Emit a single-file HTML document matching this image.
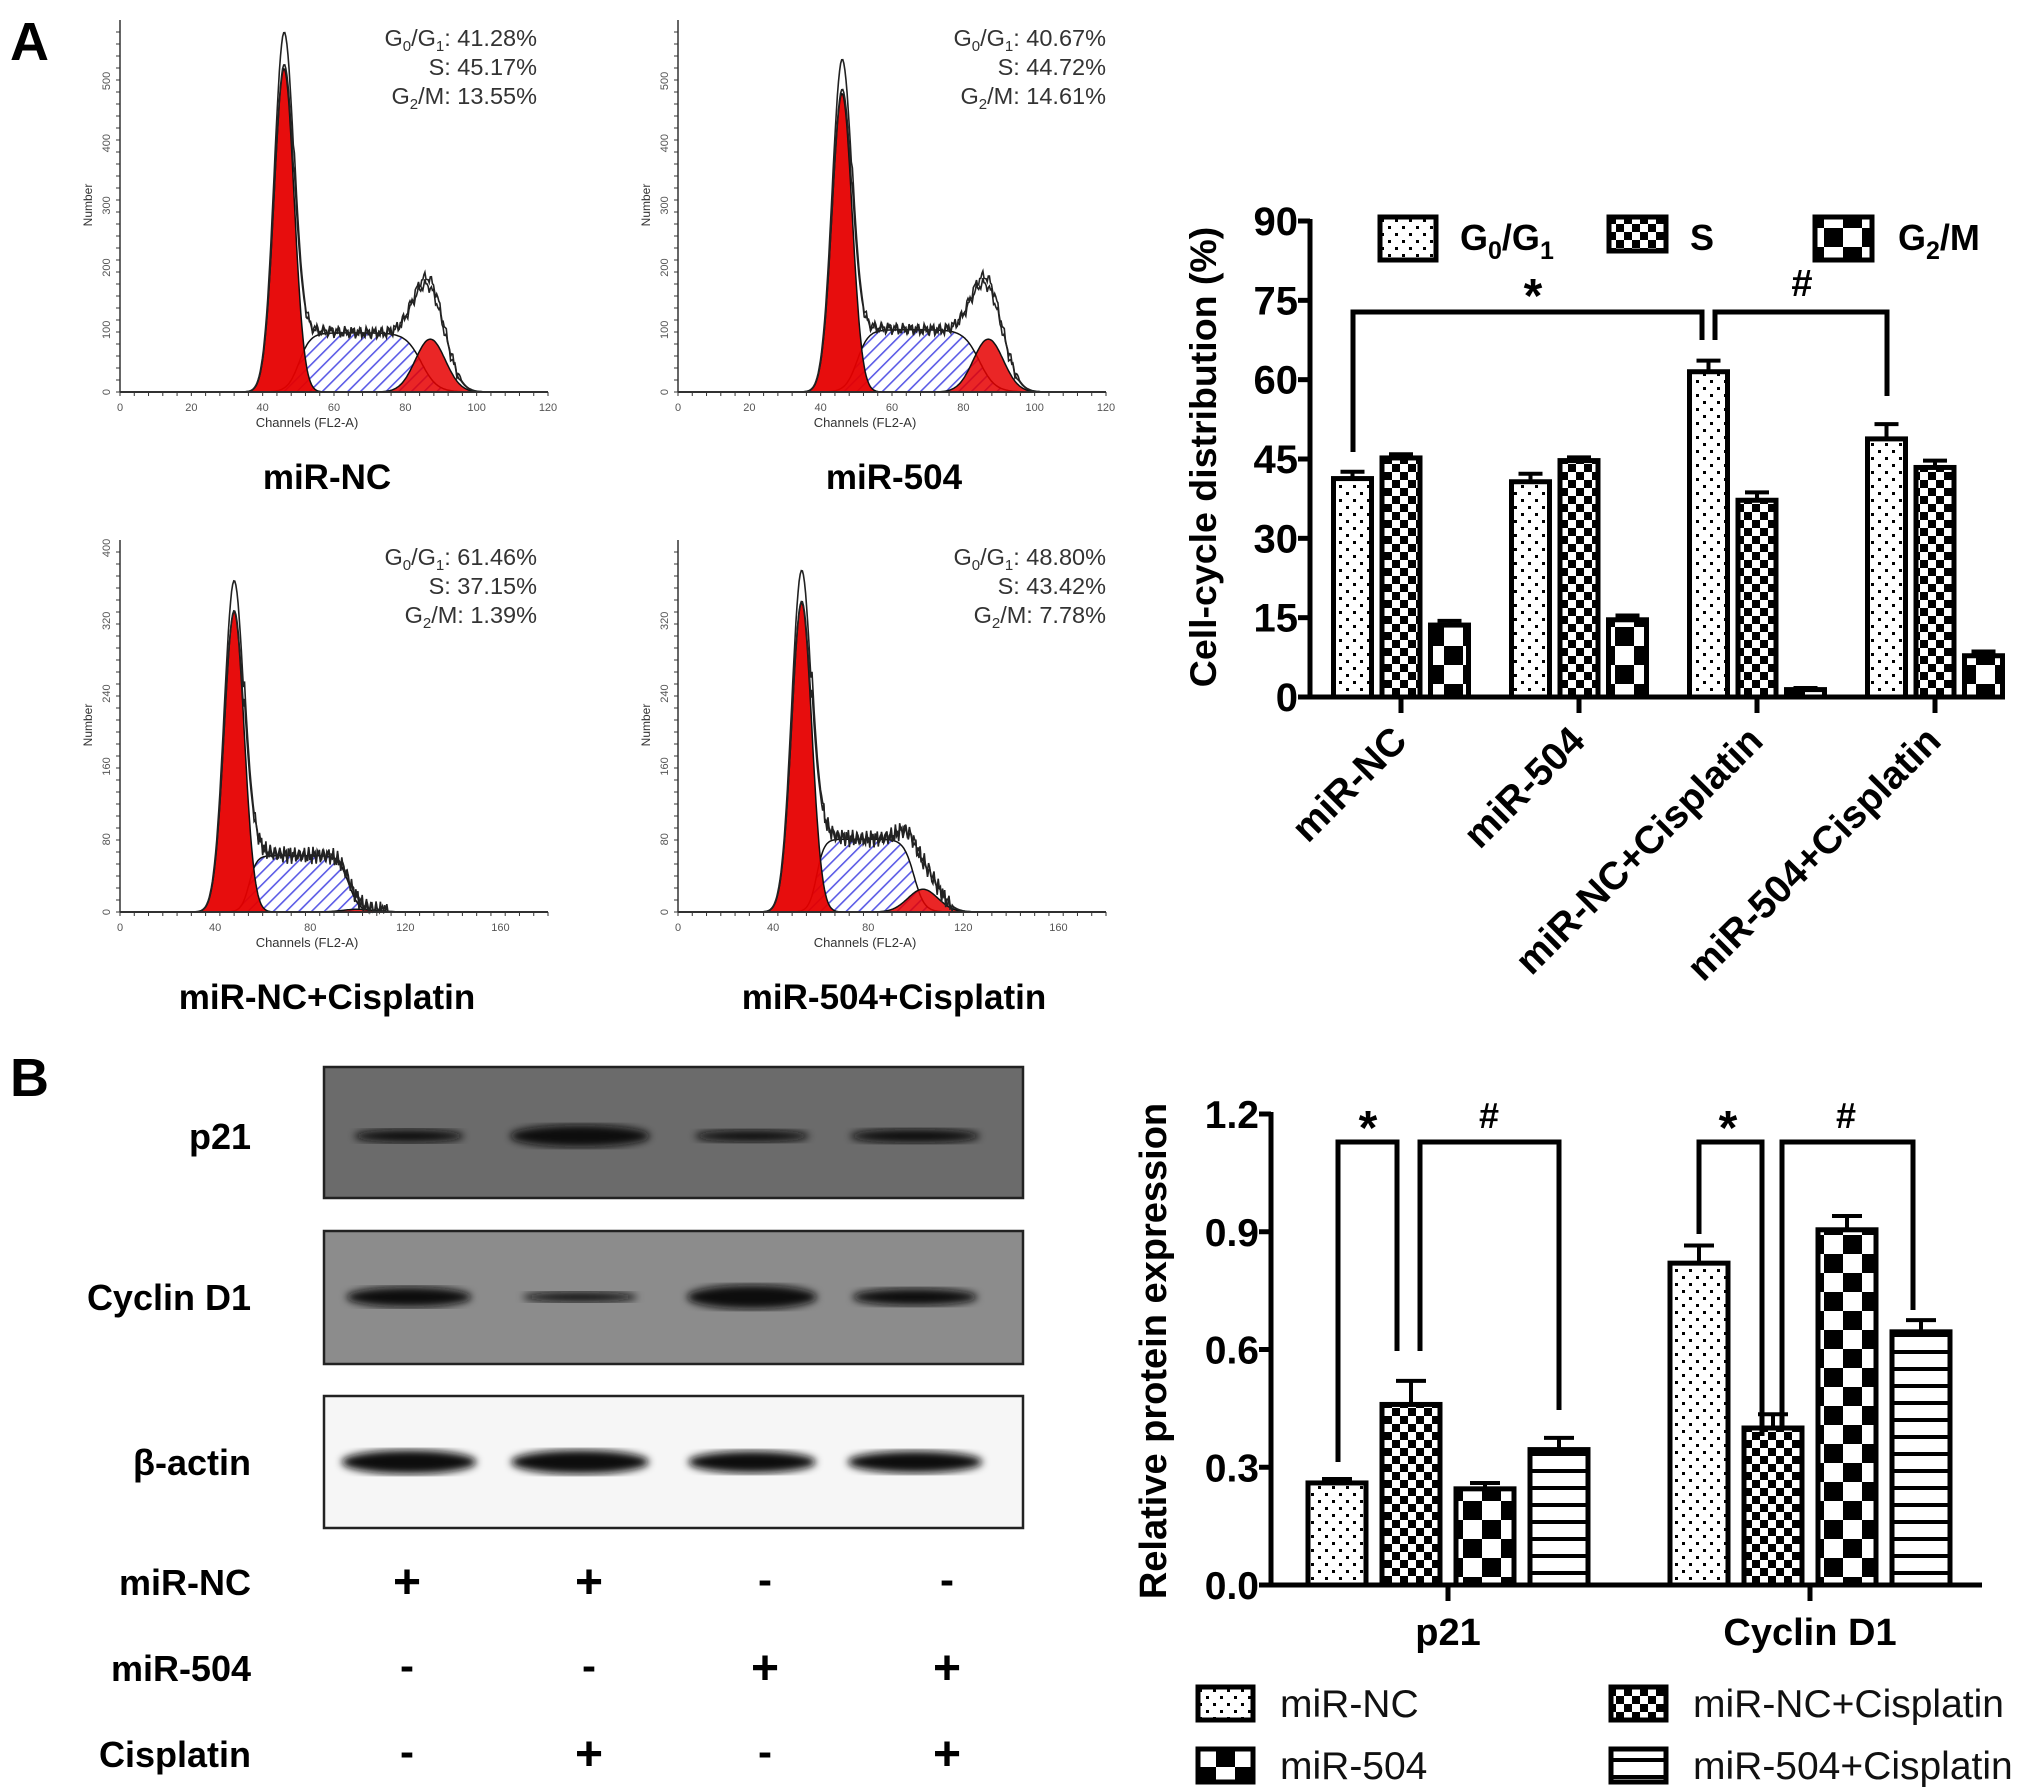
<!DOCTYPE html>
<html><head><meta charset="utf-8"><style>
html,body{margin:0;padding:0;background:#fff;}
svg{display:block;font-family:"Liberation Sans",Arial,sans-serif;}
</style></head><body>
<svg id="fig" width="2031" height="1792" viewBox="0 0 2031 1792" xmlns="http://www.w3.org/2000/svg">
<defs>
<pattern id="pDots" width="14" height="14" patternUnits="userSpaceOnUse"><rect width="14" height="14" fill="#fff"/><rect x="2" y="2" width="3" height="3" fill="#000"/><rect x="9" y="9" width="3" height="3" fill="#000"/></pattern>
<pattern id="pSmall" width="16" height="16" patternUnits="userSpaceOnUse"><rect width="16" height="16" fill="#fff"/><rect width="8" height="8" fill="#000"/><rect x="8" y="8" width="8" height="8" fill="#000"/></pattern>
<pattern id="pBig" width="38" height="38" patternUnits="userSpaceOnUse"><rect width="38" height="38" fill="#fff"/><rect width="19" height="19" fill="#000"/><rect x="19" y="19" width="19" height="19" fill="#000"/></pattern>
<pattern id="pStripe" width="20" height="17" patternUnits="userSpaceOnUse"><rect width="20" height="17" fill="#fff"/><rect y="7" width="20" height="4" fill="#000"/></pattern>
<pattern id="pHatch" width="9" height="9" patternUnits="userSpaceOnUse" patternTransform="rotate(45)"><rect width="9" height="9" fill="#fff"/><rect width="1.6" height="9" fill="#5a5ae6"/></pattern>
<filter id="blur4"><feGaussianBlur stdDeviation="4"/></filter>
</defs>
<text x="10" y="60" font-size="54" font-weight="bold">A</text>
<text x="10" y="1096" font-size="54" font-weight="bold">B</text>
<g id="flow"></g>
<g id="chartA"></g>
<g id="blot"></g>
<g id="chartB"></g>
</svg>
<script>
const NS='http://www.w3.org/2000/svg';
function mk(parent,tag,attrs,txt){const e=document.createElementNS(NS,tag);for(const k in attrs)e.setAttribute(k,attrs[k]);if(txt!==undefined)e.textContent=txt;parent.appendChild(e);return e;}

// ---------- Flow cytometry histograms ----------
const flowNames=['miR-NC','miR-504','miR-NC+Cisplatin','miR-504+Cisplatin'];
const flowG1=['41.28','40.67','61.46','48.80'];
const flowS=['45.17','44.72','37.15','43.42'];
const flowG2=['13.55','14.61','1.39','7.78'];
const flowG1Peak=[46,46,48,52];
const flowG1Height=[520,480,330,340];
const flowSHeight=[95,100,62,80];
const flowG2Peak=[87,87,100,103];
const flowG2Height=[85,85,3,25];
const flowXMax=[120,120,180,180];
const flowYTicks=[[0,100,200,300,400,500],[0,100,200,300,400,500],[0,80,160,240,320,400],[0,80,160,240,320]];
const flowXTicks=[[0,20,40,60,80,100,120],[0,20,40,60,80,100,120],[0,40,80,120,160],[0,40,80,120,160]];
const flowYPerUnit=[311/500,311/500,364/400,364/400];
(function(){
 const g=document.getElementById('flow');
 const ox=[120,678,120,678], oy=[392,392,912,912], wpx=428;
 for(let p=0;p<4;p++){
  const pg=mk(g,'g',{});
  
  
  const X=c=>ox[p]+c*wpx/flowXMax[p], Y=v=>oy[p]-v*flowYPerUnit[p];
  const mu1=flowG1Peak[p], sd1=flowXMax[p]/120*2.8, mu2=flowG2Peak[p], sd2=flowXMax[p]/120*4.2;
  const gauss=(c,m,s,h)=>h*Math.exp(-0.5*((c-m)/s)**2);
  const sig=z=>1/(1+Math.exp(-z));
  const sF=c=>flowSHeight[p]*sig((c-mu1-1.5*sd1)/1.6)*sig((mu2-0.6*sd2-c)/2.2);
  const g1=c=>gauss(c,mu1,sd1,flowG1Height[p]);
  const g2=c=>gauss(c,mu2,sd2,flowG2Height[p]);
  const step=flowXMax[p]/400;
  function area(f){let d='M'+X(0)+','+Y(0);for(let c=0;c<=flowXMax[p];c+=step)d+=' L'+X(c).toFixed(1)+','+Y(f(c)).toFixed(1);d+=' L'+X(flowXMax[p])+','+Y(0)+' Z';return d;}
  const sp=mk(pg,'path',{d:area(sF),fill:'url(#pHatch)',stroke:'#111','stroke-width':1.5});
  
  const r1=mk(pg,'path',{d:area(g1),fill:'#e60000','fill-opacity':0.95,stroke:'#111','stroke-width':1.5});
  
  const r2=mk(pg,'path',{d:area(g2),fill:'#e60000','fill-opacity':0.85,stroke:'#111','stroke-width':1.5});
  
  [1.0,1.1].forEach((k,j)=>{
   let d='';
   for(let c=mu1-4*sd1;c<=flowXMax[p]*0.92;c+=step){
    const s=sF(c), base=g1(c)*k+s+g2(c)*(1.7+0.15*j)+ (c>mu1+sd1? 12*Math.exp(-(c-mu1-2*sd1)/5):0);
    const n=(c>mu1+2*sd1&&c<mu2+2*sd2)? 6*Math.sin(c*3.1+j)+4*Math.sin(c*7.3):0;
    d+=(d?' L':'M')+X(c).toFixed(1)+','+Y(Math.max(0,base+n)).toFixed(1);
   }
   const l=mk(pg,'path',{d:d,fill:'none',stroke:'#222','stroke-width':1.6});
   
  });
  const top=oy[p]-372;
  const ya=mk(pg,'line',{x1:ox[p],y1:top,x2:ox[p],y2:oy[p],stroke:'#333','stroke-width':1.5});
  
  const xa=mk(pg,'line',{x1:ox[p],y1:oy[p],x2:ox[p]+wpx,y2:oy[p],stroke:'#333','stroke-width':1.5});
  
  for(let y=oy[p];y>top;y-=12)mk(pg,'line',{x1:ox[p]-4,y1:y,x2:ox[p],y2:y,stroke:'#333','stroke-width':1});
  for(let c=0;c<=flowXMax[p];c+=flowXMax[p]/30)mk(pg,'line',{x1:X(c),y1:oy[p],x2:X(c),y2:oy[p]+4,stroke:'#333','stroke-width':1});
  flowYTicks[p].forEach(v=>{const t=mk(pg,'text',{x:0,y:0,'font-size':11,fill:'#555','text-anchor':'middle',transform:`translate(${ox[p]-10},${Y(v)}) rotate(-90)`},String(v));});
  flowXTicks[p].forEach(v=>{const t=mk(pg,'text',{x:X(v),y:oy[p]+19,'font-size':11,fill:'#555','text-anchor':'middle'},String(v));});
  const xt=mk(pg,'text',{x:ox[p]+187,y:oy[p]+35,'font-size':13,fill:'#333','text-anchor':'middle'},'Channels  (FL2-A)');
  
  const yt=mk(pg,'text',{x:0,y:0,'font-size':12,fill:'#333','text-anchor':'middle',transform:`translate(${ox[p]-28},${oy[p]-187}) rotate(-90)`},'Number');
  
  const rx=(p%2?1106:537), ry=(p<2?46:565);
  const lines=[['G','0','/G','1',': '+flowG1[p]+'%'],['S: '+flowS[p]+'%'],['G','2','/M: '+flowG2[p]+'%']];
  lines.forEach((ln,i)=>{
   const t=mk(pg,'text',{x:rx,y:ry+i*29,'font-size':23.5,fill:'#333','text-anchor':'end'});
   
   if(ln.length===1){t.textContent=ln[0];}
   else ln.forEach((s,k)=>{mk(t,'tspan',(k%2===1)?{'font-size':15,dy:5}:(k>0?{dy:-5}:{}),s);});
  });
  const lab=mk(pg,'text',{x:(p%2?894:327),y:(p<2?489:1009),'font-size':35,'font-weight':'bold','text-anchor':'middle'},flowNames[p]);
  
 }
})();

// ---------- Chart A: cell-cycle distribution ----------
const catsA=['miR-NC','miR-504','miR-NC+Cisplatin','miR-504+Cisplatin'];
const seriesA=['G0/G1','S','G2/M'];
const g1Vals=[41.3,40.7,61.5,48.8];
const g1Errs=[1.3,1.5,2.1,2.8];
const sVals=[45.2,44.7,37.2,43.4];
const sErrs=[0.7,0.6,1.5,1.3];
const g2Vals=[13.6,14.6,1.4,7.8];
const g2Errs=[0.8,0.8,0.3,0.8];
const yTicksA=[0,15,30,45,60,75,90];
(function(){
 const g=document.getElementById('chartA');
 const y0=697,yTop=221,ax=1310;
 const yA=v=>y0-v*(y0-yTop)/90;
 const tickX=i=>1401+i*178;
 const fills=['url(#pDots)','url(#pSmall)','url(#pBig)'];
 const vals=[g1Vals,sVals,g2Vals], errs=[g1Errs,sErrs,g2Errs];
 for(let i=0;i<catsA.length;i++){
  for(let k=0;k<3;k++){
   const cx=tickX(i)+(k-1)*48.5, v=vals[k][i], e=errs[k][i];
   const eb=mk(g,'path',{d:`M${cx} ${yA(v)} V${yA(v+e)} M${cx-12} ${yA(v+e)} H${cx+12}`,stroke:'#000','stroke-width':4,fill:'none'});
   
   const b=mk(g,'rect',{x:cx-19,y:yA(v),width:38,height:y0-yA(v),fill:fills[k],stroke:'#000','stroke-width':5});
   
  }
  const tk=mk(g,'line',{x1:tickX(i),y1:y0,x2:tickX(i),y2:y0+16,stroke:'#000','stroke-width':5});
  
  const lx=tickX(i)+8, ly=y0+46;
  const tl=mk(g,'text',{x:lx,y:ly,'font-size':39,'font-weight':'bold','text-anchor':'end',transform:`rotate(-45 ${lx} ${ly})`},catsA[i]);
  
 }
 const ya=mk(g,'path',{d:`M${ax} ${yTop-2} V${y0} H1995`,stroke:'#000','stroke-width':5,fill:'none'});
 
 yTicksA.forEach(v=>{
  mk(g,'line',{x1:ax-12,y1:yA(v),x2:ax,y2:yA(v),stroke:'#000','stroke-width':5});
  const t=mk(g,'text',{x:ax-12,y:yA(v)+14,'font-size':40,'font-weight':'bold','text-anchor':'end'},String(v));
  
 });
 const yt=mk(g,'text',{x:0,y:0,'font-size':37.5,'font-weight':'bold','text-anchor':'middle',transform:'translate(1216,457) rotate(-90)'},'Cell-cycle distribution (%)');
 
 const s1=mk(g,'path',{d:`M${tickX(0)-48} 452 V312 H1702 V340`,stroke:'#000','stroke-width':5,fill:'none'});
 
 const s2=mk(g,'path',{d:'M1715 340 V312 H1887 V396',stroke:'#000','stroke-width':5,fill:'none'});
 
 const st=mk(g,'text',{x:1533,y:312,'font-size':48,'font-weight':'bold','text-anchor':'middle'},'*');
 const hs=mk(g,'text',{x:1802,y:296,'font-size':38,'font-weight':'bold','text-anchor':'middle'},'#');
 const lg=[{x:1380,w:56,h:43,f:fills[0],t:['G','0','/G','1'],tx:1460},{x:1609,w:57,h:34,f:fills[1],t:['S'],tx:1690},{x:1815,w:57,h:43,f:fills[2],t:['G','2','/M'],tx:1898}];
 lg.forEach(o=>{
  const r=mk(g,'rect',{x:o.x,y:217,width:o.w,height:o.h,fill:o.f,stroke:'#000','stroke-width':5});
  
  const t=mk(g,'text',{x:o.tx,y:250,'font-size':36,'font-weight':'bold'});
  
  o.t.forEach((s,k)=>mk(t,'tspan',(k%2===1)?{'font-size':25,dy:9}:(k>0?{dy:-9}:{}),s));
 });
})();

// ---------- Western blot ----------
const blotRows=['p21','Cyclin D1','β-actin'];
const blotLanes=[409,580,752,915];
const p21Band=[[110,9],[140,18],[115,8],[130,10]];
const cyclinBand=[[125,16],[115,6],[130,20],[125,13]];
const actinBand=[[135,20],[138,20],[128,18],[135,18]];
(function(){
 const g=document.getElementById('blot');
 const boxes=[[1067,1198,'#6b6b6b'],[1231,1364,'#8c8c8c'],[1396,1528,'#f6f6f6']];
 const bands=[p21Band,cyclinBand,actinBand];
 const centers=[1136,1297,1462];
 boxes.forEach((b,i)=>{
  const r=mk(g,'rect',{x:324,y:b[0],width:699,height:b[1]-b[0],fill:b[2],stroke:'#222','stroke-width':2.5});
  
  bands[i].forEach((bd,j)=>{
   const e=mk(g,'ellipse',{cx:blotLanes[j],cy:centers[i],rx:bd[0]/2,ry:bd[1]/2+2,fill:'#111',filter:'url(#blur4)'});
   
  });
  const t=mk(g,'text',{x:251,y:centers[i]+13,'font-size':36,'font-weight':'bold','text-anchor':'end'},blotRows[i]);
  
 });
 const condRows=['miR-NC','miR-504','Cisplatin'];
 const condSigns=[['+','+','-','-'],['-','-','+','+'],['-','+','-','+']];
 const condY=[1582,1668,1754];
 const signX=[407,589,765,947];
 condRows.forEach((c,i)=>{
  const t=mk(g,'text',{x:251,y:condY[i]+13,'font-size':36,'font-weight':'bold','text-anchor':'end'},c);
  
  condSigns[i].forEach((s,j)=>{
   const st=mk(g,'text',{x:signX[j],y:condY[i]+(s==='+'?16:12),'font-size':s==='+'?48:42,'font-weight':'bold','text-anchor':'middle'},s);
   
  });
 });
})();

// ---------- Chart B: relative protein expression ----------
const catsB=['p21','Cyclin D1'];
const seriesB=['miR-NC','miR-504','miR-NC+Cisplatin','miR-504+Cisplatin'];
const p21Vals=[0.26,0.46,0.245,0.345];
const p21Errs=[0.01,0.06,0.015,0.03];
const cycVals=[0.82,0.40,0.905,0.645];
const cycErrs=[0.045,0.035,0.035,0.03];
const yTicksB=['0.0','0.3','0.6','0.9','1.2'];
(function(){
 const g=document.getElementById('chartB');
 const y0=1585,yTop=1114,ax=1271;
 const yB=v=>y0-v*(y0-yTop)/1.2;
 const gStart=[1308,1670];
 const fills=['url(#pDots)','url(#pSmall)','url(#pBig)','url(#pStripe)'];
 const vals=[p21Vals,cycVals], errs=[p21Errs,cycErrs];
 const barX=(gi,k)=>gStart[gi]+k*74;
 for(let gi=0;gi<2;gi++){
  for(let k=0;k<4;k++){
   const x=barX(gi,k), cx=x+29, v=vals[gi][k], e=errs[gi][k];
   const eb=mk(g,'path',{d:`M${cx} ${yB(v)} V${yB(v+e)} M${cx-15} ${yB(v+e)} H${cx+15}`,stroke:'#000','stroke-width':4,fill:'none'});
   
   const b=mk(g,'rect',{x:x,y:yB(v),width:58,height:y0-yB(v),fill:fills[k],stroke:'#000','stroke-width':5});
   
  }
  const tc=gStart[gi]+(3*74+58)/2;
  mk(g,'line',{x1:tc,y1:y0,x2:tc,y2:y0+16,stroke:'#000','stroke-width':5});
  const tl=mk(g,'text',{x:tc,y:1645,'font-size':38,'font-weight':'bold','text-anchor':'middle'},catsB[gi]);
  
 }
 const axp=mk(g,'path',{d:`M${ax} ${yTop-2} V${y0} H1982`,stroke:'#000','stroke-width':5,fill:'none'});
 
 yTicksB.forEach(s=>{
  const v=parseFloat(s);
  mk(g,'line',{x1:ax-12,y1:yB(v),x2:ax,y2:yB(v),stroke:'#000','stroke-width':5});
  const t=mk(g,'text',{x:ax-12,y:yB(v)+14,'font-size':39,'font-weight':'bold','text-anchor':'end'},s);
  
 });
 const yt=mk(g,'text',{x:0,y:0,'font-size':38,'font-weight':'bold','text-anchor':'middle',transform:'translate(1166,1351) rotate(-90)'},'Relative protein expression');
 
 const br=[
  ['M1338 1462 V1142 H1397 V1351','significance-bracket-star'],
  ['M1420 1351 V1142 H1559 V1410','significance-bracket-hash'],
  ['M1699 1234 V1142 H1762 V1436','significance-bracket-star'],
  ['M1782 1429 V1142 H1913 V1310','significance-bracket-hash']];
 br.forEach(b=>{const p=mk(g,'path',{d:b[0],stroke:'#000','stroke-width':5,fill:'none'});});
 [[1368,'*'],[1489,'#'],[1728,'*'],[1846,'#']].forEach(m=>{
  const t=mk(g,'text',{x:m[0],y:m[1]==='*'?1144:1128,'font-size':m[1]==='*'?48:36,'font-weight':'bold','text-anchor':'middle'},m[1]);
  
 });
 const lgFills=['url(#pDots)','url(#pBig)','url(#pSmall)','url(#pStripe)'];
 const lgPos=[[1198,1687],[1198,1749],[1611,1687],[1611,1749]];
 [0,1,2,3].forEach(i=>{
  const [x,y]=lgPos[i];
  const r=mk(g,'rect',{x:x,y:y,width:55,height:33,fill:lgFills[i],stroke:'#000','stroke-width':5});
  
  const t=mk(g,'text',{x:x+82,y:y+30,'font-size':39,fill:'#111'},seriesB[i]);
  
 });
})();
</script>
</body></html>
